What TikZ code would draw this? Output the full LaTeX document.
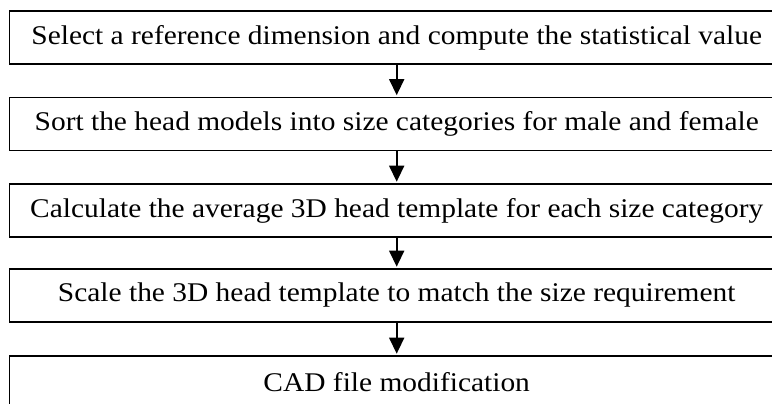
\documentclass[tikz,border=0pt]{standalone}
\usepackage{fontspec}
\setmainfont[FakeStretch=1.09]{Liberation Serif}
\usetikzlibrary{arrows.meta}
\begin{document}
\begin{tikzpicture}[x=1pt,y=-1pt,
  stepbox/.style={draw=black, line width=1.6pt, rectangle, minimum width=774.4pt, minimum height=53pt, inner sep=0pt, font=\fontsize{27}{31}\selectfont},
  flow/.style={draw=black, line width=1.6pt, -{Triangle[width=15pt,length=16pt]}, shorten >=1.5pt}]
\useasboundingbox (0,0) rectangle (772,404);
\node[stepbox] (s1) at (396.7,37.5) {Select a reference dimension and compute the statistical value};
\node[stepbox] (s2) at (396.7,124) {Sort the head models into size categories for male and female};
\node[stepbox] (s3) at (396.7,210.5) {Calculate the average 3D head template for each size category};
\node[stepbox] (s4) at (396.7,295.5) {Scale the 3D head template to match the size requirement};
\node[stepbox] (s5) at (396.7,382.5) {CAD file modification};
\draw[flow] (s1) -- (s2);
\draw[flow] (s2) -- (s3);
\draw[flow] (s3) -- (s4);
\draw[flow] (s4) -- (s5);
\end{tikzpicture}
\end{document}
